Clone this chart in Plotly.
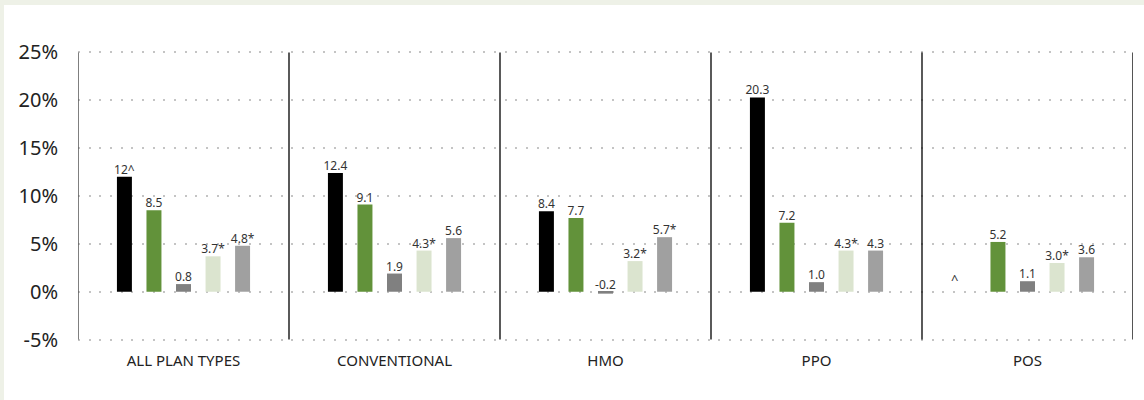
import plotly.graph_objects as go

# Plan-type groups and the five series shown in each group
groups = ["ALL PLAN TYPES", "CONVENTIONAL", "HMO", "PPO", "POS"]

series_a = [12.0, 12.4, 8.4, 20.3, None]
series_b = [8.5, 9.1, 7.7, 7.2, 5.2]
series_c = [0.8, 1.9, -0.2, 1.0, 1.1]
series_d = [3.7, 4.3, 3.2, 4.3, 3.0]
series_e = [4.8, 5.6, 5.7, 4.3, 3.6]

labels_a = ["12^", "12.4", "8.4", "20.3", "^"]
labels_b = ["8.5", "9.1", "7.7", "7.2", "5.2"]
labels_c = ["0.8", "1.9", "-0.2", "1.0", "1.1"]
labels_d = ["3.7*", "4.3*", "3.2*", "4.3*", "3.0*"]
labels_e = ["4.8*", "5.6", "5.7*", "4.3", "3.6"]

y_ticks = [-5, 0, 5, 10, 15, 20, 25]
y_tick_text = ["-5%", "0%", "5%", "10%", "15%", "20%", "25%"]

colors = ["#000000", "#62923a", "#808080", "#dbe4cf", "#a0a0a0"]

all_series = [series_a, series_b, series_c, series_d, series_e]
all_labels = [labels_a, labels_b, labels_c, labels_d, labels_e]

# layout geometry
W, H = 1144, 400
ML, MR, MT, MB = 78, 11, 50, 58
PW, PH = W - ML - MR, H - MT - MB
pad = 0.25  # small headroom so the end gridlines are drawn

step = 0.14      # distance between bar centres within a group
bar_w = 0.071

fig = go.Figure()
annotations = []
n = len(all_series)
for i, (vals, labs, col) in enumerate(zip(all_series, all_labels, colors)):
    xs = [g + (i - (n - 1) / 2) * step for g in range(len(groups))]
    ys = [v if v is not None else 0 for v in vals]
    fig.add_trace(go.Bar(
        x=xs, y=ys, width=bar_w, marker=dict(color=col, line=dict(width=0)),
        showlegend=False, hoverinfo="skip",
    ))
    shown = [k for k, v in enumerate(vals) if v is not None]
    fig.add_trace(go.Scatter(
        x=[xs[k] for k in shown], y=[max(vals[k], 0) for k in shown],
        mode="text", text=[labs[k] for k in shown],
        textposition="top center",
        textfont=dict(family="Noto Sans", size=12, color="#333333"),
        showlegend=False, hoverinfo="skip",
    ))
    # marker for a value that is not reported
    for k, v in enumerate(vals):
        if v is None:
            annotations.append(dict(
                x=xs[k], y=0, xref="x", yref="y", text=labs[k],
                showarrow=False, xshift=-14, yshift=2, yanchor="bottom",
                font=dict(family="Noto Sans", size=13, color="#333333"),
            ))

shapes = []
# vertical separators between groups
for g in range(len(groups) - 1):
    shapes.append(dict(type="line", xref="x", yref="y", x0=g + 0.5, x1=g + 0.5,
                       y0=-5, y1=25, line=dict(color="#000000", width=1.3)))
shapes.append(dict(type="line", xref="x", yref="y", x0=len(groups) - 0.5,
                   x1=len(groups) - 0.5, y0=-5, y1=25,
                   line=dict(color="#555555", width=2)))
shapes.append(dict(type="line", xref="x", yref="y", x0=-0.5, x1=-0.5,
                   y0=-5, y1=25, line=dict(color="#555555", width=1.5)))
# pale frame strips along the top and left edges
frame = "#eef1e7"
shapes.append(dict(type="rect", xref="paper", yref="paper", layer="below",
                   x0=-ML / PW, x1=(W - ML) / PW,
                   y0=(H - MB - 5) / PH, y1=(H - MB) / PH,
                   fillcolor=frame, line=dict(width=0)))
shapes.append(dict(type="rect", xref="paper", yref="paper", layer="below",
                   x0=-ML / PW, x1=(4 - ML) / PW,
                   y0=-MB / PH, y1=(H - MB) / PH,
                   fillcolor=frame, line=dict(width=0)))

fig.update_layout(
    width=W, height=H,
    margin=dict(l=ML, r=MR, t=MT, b=MB),
    paper_bgcolor="#ffffff", plot_bgcolor="#ffffff",
    barmode="overlay",
    shapes=shapes,
    annotations=annotations,
    xaxis=dict(
        range=[-0.5, len(groups) - 0.5],
        tickmode="array", tickvals=list(range(len(groups))), ticktext=groups,
        tickfont=dict(family="Noto Sans", size=15, color="#222222"),
        showgrid=False, zeroline=False, showline=False,
        ticks="outside", ticklen=5, tickcolor="rgba(0,0,0,0)",
        fixedrange=True,
    ),
    yaxis=dict(
        range=[-5 - pad, 25 + pad],
        tickmode="array", tickvals=y_ticks, ticktext=y_tick_text,
        tickfont=dict(family="Noto Sans", size=20, color="#222222"),
        showgrid=True, gridcolor="#c4c4c4", gridwidth=2, griddash="2px,8.67px",
        zeroline=False, showline=False,
        ticks="outside", ticklen=15, tickcolor="rgba(0,0,0,0)",
        fixedrange=True,
    ),
)

fig.write_html("out.html")
